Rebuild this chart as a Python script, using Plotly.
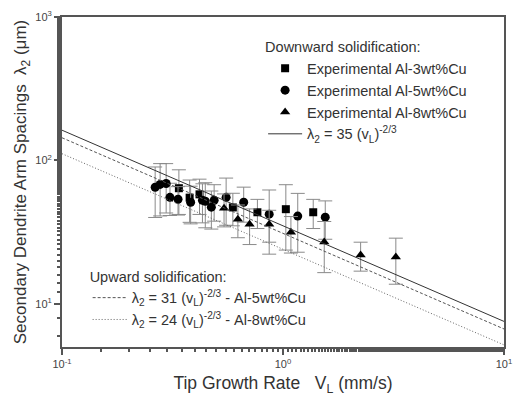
import numpy as np
import plotly.graph_objects as go

# Experimental data: tip growth rate V_L (mm/s) vs secondary arm spacing (um)
v_al3 = [0.338, 0.378, 0.419, 0.593, 0.766, 1.03, 1.37]
lam_al3 = [64, 55, 58, 47, 43.5, 45.7, 43.5]
err_al3 = [22, 18, 16, 12, 10, 22, 10]

v_al5 = [0.264, 0.278, 0.296, 0.308, 0.335, 0.382, 0.432, 0.445, 0.474, 0.488,
         0.553, 0.664, 0.866, 1.166, 1.553]
lam_al5 = [65, 68, 69, 55.3, 53.6, 51.1, 52.7, 51.9, 47.2, 52.7,
           55.3, 51.1, 42.2, 40.9, 40.2]
err_al5 = [25, 27, 26, 14, 12, 15, 16, 18, 14, 15, 20, 14, 20, 18, 12]

v_al8 = [0.541, 0.625, 0.706, 0.866, 1.086, 1.537, 2.245, 3.24]
lam_al8 = [46.4, 38.9, 35.9, 35.9, 31.6, 27.0, 21.9, 21.2]
err_al8 = [12, 10, 10, 9, 9, 10.5, 5, 7.5]

# Power-law fits lambda2 = C * V^(-2/3)
fit_v = [0.1, 10]
c_down = 35
c_up5 = 31
c_up8 = 24

x_tickvals = [0.1, 1, 10]
x_ticktext = ["10<sup>-1</sup>", "10<sup>0</sup>", "10<sup>1</sup>"]
y_tickvals = [10, 100, 1000]
y_ticktext = ["10<sup>1</sup>", "10<sup>2</sup>", "10<sup>3</sup>"]

fv = np.array(fit_v, dtype=float)

fig = go.Figure()

err_style = dict(type="data", color="#8a8a8a", thickness=1, width=7)

fig.add_trace(go.Scatter(
    x=v_al3, y=lam_al3, mode="markers", name="Experimental Al-3wt%Cu",
    marker=dict(symbol="square", size=8, color="black"),
    error_y=dict(array=err_al3, **err_style), legend="legend"))
fig.add_trace(go.Scatter(
    x=v_al5, y=lam_al5, mode="markers", name="Experimental Al-5wt%Cu",
    marker=dict(symbol="circle", size=9, color="black"),
    error_y=dict(array=err_al5, **err_style), legend="legend"))
fig.add_trace(go.Scatter(
    x=v_al8, y=lam_al8, mode="markers", name="Experimental Al-8wt%Cu",
    marker=dict(symbol="triangle-up", size=9, color="black"),
    error_y=dict(array=err_al8, **err_style), legend="legend"))
fig.add_trace(go.Scatter(
    x=fv, y=c_down * fv ** (-2 / 3), mode="lines",
    name="λ<sub>2</sub> = 35 (v<sub>L</sub>)<sup>-2/3</sup>",
    line=dict(color="#333333", width=1), legend="legend"))
fig.add_trace(go.Scatter(
    x=fv, y=c_up5 * fv ** (-2 / 3), mode="lines",
    name="λ<sub>2</sub> = 31 (v<sub>L</sub>)<sup>-2/3</sup> - Al-5wt%Cu",
    line=dict(color="#555555", width=1, dash="3px,2px"), legend="legend2"))
fig.add_trace(go.Scatter(
    x=fv, y=c_up8 * fv ** (-2 / 3), mode="lines",
    name="λ<sub>2</sub> = 24 (v<sub>L</sub>)<sup>-2/3</sup> - Al-8wt%Cu",
    line=dict(color="#666666", width=1, dash="1px,2px"), legend="legend2"))

axis_common = dict(
    type="log", showgrid=False, zeroline=False,
    showline=True, linecolor="#555555", linewidth=2, mirror=True,
    ticks="outside", ticklen=6, tickcolor="#555555", tickwidth=1.5,
    minor=dict(ticks="outside", ticklen=3, tickcolor="#555555"),
    tickfont=dict(size=11, color="#444444"),
)

fig.update_xaxes(
    range=[-1, 1], tickvals=x_tickvals, ticktext=x_ticktext,
    title=dict(text="Tip Growth Rate   V<sub>L</sub> (mm/s)",
               font=dict(size=17.5, color="#333333"), standoff=8),
    **axis_common)
fig.update_yaxes(
    range=[np.log10(5.0), 3], tickvals=y_tickvals, ticktext=y_ticktext,
    title=dict(text="Secondary Dendrite Arm Spacings  λ<sub>2</sub> (μm)",
               font=dict(size=17, color="#333333"), standoff=4),
    **axis_common)

legend_font = dict(family="Liberation Sans, Arial, sans-serif", size=14.5, color="#333333")

fig.update_layout(
    width=521, height=405,
    margin=dict(l=62, r=9, t=16, b=58),
    paper_bgcolor="white", plot_bgcolor="white",
    font=dict(family="Liberation Sans, Arial, sans-serif", color="#333333"),
    legend=dict(
        title=dict(text="Downward solidification:", font=legend_font),
        x=0.455, y=0.95, xanchor="left", yanchor="top",
        bgcolor="rgba(0,0,0,0)", font=legend_font,
        itemwidth=34, tracegroupgap=0),
    legend2=dict(
        title=dict(text="Upward solidification:", font=legend_font),
        x=0.058, y=0.255, xanchor="left", yanchor="top",
        bgcolor="rgba(0,0,0,0)", font=legend_font,
        itemwidth=34, tracegroupgap=0),
)

fig.write_html("out.html")
